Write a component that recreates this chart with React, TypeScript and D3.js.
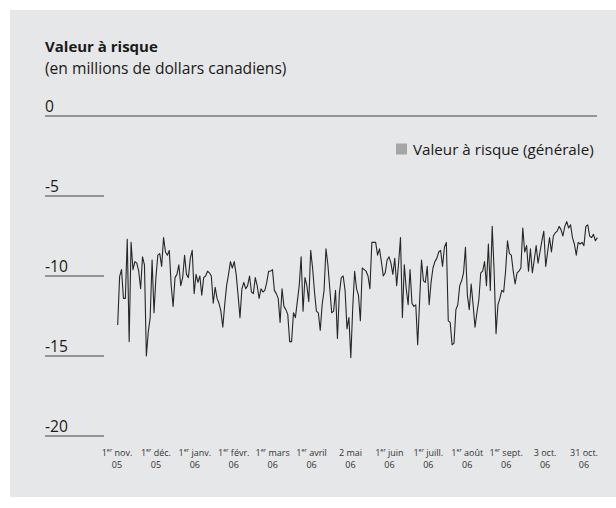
import React from "react";
import * as d3 from "d3";

const title = "Valeur à risque";
const subtitle = "(en millions de dollars canadiens)";
const legendLabel = "Valeur à risque (générale)";
const yTicks = [0, -5, -10, -15, -20];
const xLabelsTop = ["1er nov.", "1er déc.", "1er janv.", "1er févr.", "1er mars", "1er avril", "2 mai", "1er juin", "1er juill.", "1er août", "1er sept.", "3 oct.", "31 oct."];
const xLabelsBottom = ["05", "05", "06", "06", "06", "06", "06", "06", "06", "06", "06", "06", "06"];

const varSeries = [
  -13.06, -10.04, -9.6, -11.4, -11.4, -7.7, -14.1, -7.9, -9.6, -9.1, -9.2, -9.7, -10.8, -8.8, -9.3, -15.0, -13.5, -12.6, -9.0, -12.3,
  -10.1, -8.7, -8.6, -9.4, -7.6, -8.5, -8.7, -8.4, -10.6, -11.9, -10.1, -9.9, -9.3, -10.6, -10.1, -8.7, -9.9, -10.1, -8.9, -8.4,
  -11.1, -9.9, -10.4, -10.0, -11.2, -10.1, -10.0, -9.7, -9.8, -10.0, -11.7, -10.7, -11.4, -11.7, -12.2, -13.2, -11.8, -10.6, -9.9, -9.1,
  -9.5, -9.1, -9.9, -11.2, -12.6, -10.8, -10.4, -10.8, -10.6, -10.0, -11.0, -11.1, -10.1, -10.6, -11.4, -10.8, -11.0, -10.9, -10.4, -9.7,
  -9.7, -9.6, -10.9, -11.1, -11.4, -12.9, -10.8, -11.9, -12.1, -12.4, -14.1, -14.1, -12.3, -12.6, -11.6, -10.6, -8.8, -12.2, -10.1, -10.6,
  -11.6, -8.4, -9.5, -11.0, -12.2, -12.3, -13.4, -11.8, -10.9, -8.3, -9.3, -10.8, -12.3, -12.2, -10.9, -13.9, -11.1, -10.1, -10.0, -10.9,
  -13.3, -12.6, -15.1, -12.0, -9.7, -10.8, -11.2, -12.8, -9.5, -9.6, -9.7, -10.0, -10.8, -7.9, -7.9, -7.9, -8.7, -8.3, -9.1, -10.0,
  -9.8, -9.0, -8.8, -9.2, -9.9, -8.9, -10.6, -9.2, -7.6, -12.6, -9.3, -10.8, -11.8, -9.6, -11.7, -11.9, -11.8, -14.3, -11.6, -9.0,
  -10.3, -10.4, -9.4, -11.8, -10.4, -9.5, -9.1, -8.9, -8.5, -8.4, -9.4, -8.2, -7.9, -12.8, -12.9, -14.3, -14.2, -12.1, -11.8, -10.6,
  -10.3, -9.8, -8.2, -11.2, -12.1, -10.5, -11.8, -13.2, -12.3, -11.5, -9.8, -9.7, -9.1, -10.6, -8.0, -10.9, -6.9, -9.7, -13.6, -11.8,
  -11.4, -10.9, -11.0, -9.7, -7.8, -8.6, -8.7, -9.7, -10.5, -9.8, -9.7, -9.5, -7.0, -8.5, -8.1, -9.7, -8.3, -9.8, -9.0, -8.1,
  -9.2, -8.5, -7.8, -7.2, -9.4, -8.5, -7.6, -8.5, -7.5, -7.3, -7.2, -6.9, -7.1, -7.5, -6.9, -6.6, -7.0, -6.8, -7.6, -8.0,
  -8.7, -7.9, -8.0, -7.9, -8.1, -6.9, -6.8, -7.5, -7.6, -7.4, -7.8, -7.6,
];

const FONT = "'Open Sans', 'Noto Sans', sans-serif";

function Label({ text, x, y }: { text: string; x: number; y: number }) {
  if (text.startsWith("1er")) {
    return (
      <text x={x} y={y} textAnchor="middle">
        <tspan>1</tspan>
        <tspan fontSize={5.5} dy={-3.5}>er</tspan>
        <tspan dy={3.5}>{text.slice(3)}</tspan>
      </text>
    );
  }
  return (
    <text x={x} y={y} textAnchor="middle">
      {text}
    </text>
  );
}

export default function App() {
  const W = 616;
  const H = 508;
  const y = d3.scaleLinear().domain([0, -20]).range([116, 436]);
  const x = d3.scaleLinear().domain([0, varSeries.length - 1]).range([117.7, 597.3]);
  const xl = d3.scalePoint<string>().domain(xLabelsTop.map((_, i) => String(i))).range([117, 584]);
  const line = d3
    .line<number>()
    .x((_, i) => x(i))
    .y((d) => y(d));

  return (
    <svg
      width={W}
      height={H}
      style={{ position: "absolute", left: 0, top: 0, background: "#fff" }}
      fontFamily={FONT}
    >
      <rect x={10} y={10} width={606} height={487} fill="#e6e7e8" />
      <text x={45} y={52} fontSize={15} fontWeight={700} fill="#1a1a1a">
        {title}
      </text>
      <text x={45} y={74} fontSize={15.6} fill="#1a1a1a">
        {subtitle}
      </text>
      {yTicks.map((t) => (
        <g key={t}>
          <line
            x1={45}
            x2={t === 0 ? 597 : 104}
            y1={y(t)}
            y2={y(t)}
            stroke="#444"
            strokeWidth={1}
          />
          <text x={45} y={y(t) - 4} fontSize={15.6} fill="#1a1a1a">
            {String(t)}
          </text>
        </g>
      ))}
      <rect x={396} y={143.5} width={11} height={11} fill="#a6a6a6" />
      <text x={413} y={154.5} fontSize={15.2} fill="#1a1a1a">
        {legendLabel}
      </text>
      <path d={line(varSeries) || ""} fill="none" stroke="#262626" strokeWidth={1.1} strokeLinejoin="round" />
      <g fontSize={9} fill="#333">
        {xLabelsTop.map((lab, i) => (
          <g key={i}>
            <Label text={lab} x={xl(String(i))!} y={455.5} />
            <text x={xl(String(i))!} y={467.5} textAnchor="middle">
              {xLabelsBottom[i]}
            </text>
          </g>
        ))}
      </g>
    </svg>
  );
}
